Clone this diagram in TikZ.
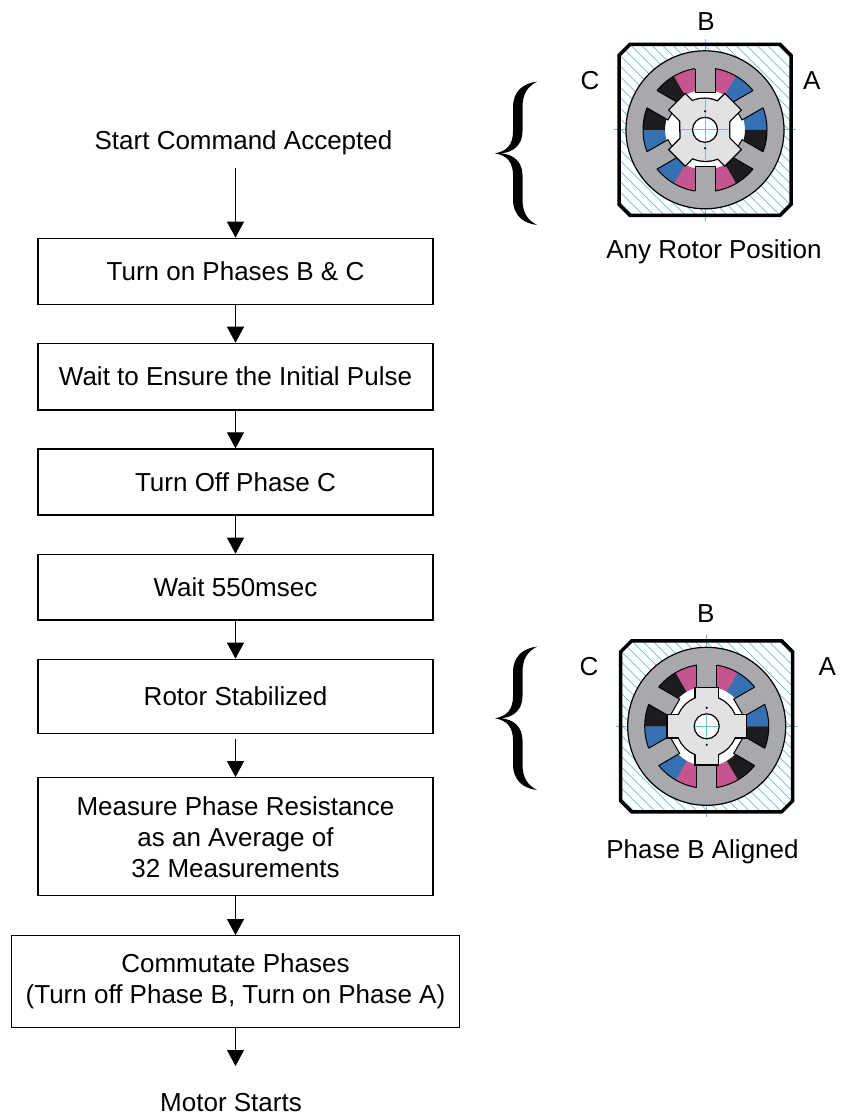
\documentclass[tikz,border=0pt]{standalone}
\usepackage{fontspec}
\setmainfont{Liberation Sans}
\usetikzlibrary{arrows.meta}
\definecolor{pinkw}{RGB}{198,84,142}
\definecolor{bluew}{RGB}{52,112,178}
\definecolor{blackw}{RGB}{28,28,30}
\definecolor{statorc}{RGB}{167,169,172}
\definecolor{rotorc}{RGB}{226,226,227}
\definecolor{hatchc}{RGB}{105,195,202}
\newcommand\octpath{(-75,85.5) -- (75,85.5) -- (86,74.5) -- (86,-74.5) -- (75,-85.5) -- (-75,-85.5) -- (-86,-74.5) -- (-86,74.5) -- cycle}
\newcommand\motorbase{%
  \begin{scope}
    \clip \octpath;
    \foreach \k in {-189,-178.5,...,189} \draw[hatchc, line width=0.7pt] (\k-95,95) -- (\k+95,-95);
  \end{scope}
  \draw[hatchc, line width=0.8pt] (0,91) -- (0,-91) (-91,0) -- (91,0);
  \draw[line width=3.5pt] \octpath;
  \filldraw[fill=statorc, draw=black, line width=1.2pt] (0,0) circle[radius=79pt];
  \fill[white] (0,0) circle[radius=40pt];
  \foreach \a/\cu/\cd in {0/bluew/blackw,60/pinkw/bluew,120/blackw/pinkw,180/bluew/blackw,240/pinkw/bluew,300/blackw/pinkw}{%
    \fill[\cu] (\a:40pt) -- (\a:62pt) arc[start angle=\a, end angle=\a+30, radius=62pt] -- ({\a+30}:40pt) arc[start angle=\a+30, end angle=\a, radius=40pt] -- cycle;
    \fill[\cd] ({\a-30}:40pt) -- ({\a-30}:62pt) arc[start angle=\a-30, end angle=\a, radius=62pt] -- (\a:40pt) arc[start angle=\a, end angle=\a-30, radius=40pt] -- cycle;
  }
  \draw[line width=1pt] (0,0) circle[radius=62pt];
  \foreach \t in {30,90,...,330}{%
    \begin{scope}[rotate=\t]
      \fill[statorc] (37,-10) rectangle (63.5,10);
      \draw[line width=1pt] (61.2,-10) -- (37,-10) -- (37,10) -- (61.2,10);
    \end{scope}
  }
}
\newcommand\centerhub{%
  \filldraw[fill=white, draw=black, line width=1.2pt] (0,0) circle[radius=12.5pt];
  \draw[hatchc, line width=0.8pt] (-12,0) -- (12,0) (0,-12) -- (0,12);
  \fill (0,18.5) circle[radius=1.2pt] (0,-18.5) circle[radius=1.2pt];
}
\newcommand\topbody{(24,-19.0) -- (24,19.0) arc[start angle=37.74, end angle=142.26, radius=31pt] -- (-24,-19.0) arc[start angle=217.74, end angle=322.26, radius=31pt] -- cycle}
\newcommand\bracefill{%
  \fill (42,71.7) .. controls (28,70) and (18,62) .. (18,46) -- (18,22) .. controls (18,9) and (12,2) .. (0,0)
     .. controls (12,-2) and (18,-9) .. (18,-22) -- (18,-46) .. controls (18,-62) and (28,-70) .. (42,-71.7)
     .. controls (33,-67) and (27.5,-60) .. (27.5,-46) -- (27.5,-22) .. controls (27.5,-9) and (19,-1) .. (6,0)
     .. controls (19,1) and (27.5,9) .. (27.5,22) -- (27.5,46) .. controls (27.5,60) and (33,67) .. (42,71.7) -- cycle;
}
\begin{document}
\begin{tikzpicture}[x=1pt,y=1pt,
  box/.style={draw, line width=1.3pt, minimum width=395pt, inner sep=0pt, align=center, font=\fontsize{26}{31}\selectfont},
  lab/.style={font=\fontsize{26}{31}\selectfont, anchor=base, inner sep=0pt},
  arr/.style={-{Triangle[length=16pt,width=17pt]}, line width=1pt}]
\useasboundingbox (0,0) rectangle (841,-1116);
\fill[white] (0,0) rectangle (841,-1116);

% flowchart
\node[lab] (start) at (243.5,-149.3) {Start Command Accepted};
\coordinate (sa) at (235.5,-168);
\node[box, minimum height=66pt] (b1) at (235.5,-271.3) {Turn on Phases B \& C};
\node[box, minimum height=66.7pt] (b2) at (235.5,-376.7) {Wait to Ensure the Initial Pulse};
\node[box, minimum height=66pt] (b3) at (235.5,-482) {Turn Off Phase C};
\node[box, minimum height=65.7pt] (b4) at (235.5,-587.2) {Wait 550msec};
\node[box, minimum height=74pt] (b5) at (235.5,-696.3) {Rotor Stabilized};
\node[box, minimum height=118pt] (b6) at (235.5,-836.7) {Measure Phase Resistance\\as an Average of\\32 Measurements};
\node[box, minimum width=447.6pt, minimum height=91.6pt] (b7) at (235.5,-981.5) {Commutate Phases\\(Turn off Phase B, Turn on Phase A)};
\coordinate (ea) at (235.5,-1066);
\node[lab] (ms) at (231,-1111) {Motor Starts};

\draw[arr] (sa) -- (b1);
\draw[arr] (b1) -- (b2);
\draw[arr] (b2) -- (b3);
\draw[arr] (b3) -- (b4);
\draw[arr] (b4) -- (b5);
\draw[arr, shorten <=4.7pt] (b5) -- (b6);
\draw[arr] (b6) -- (b7);
\draw[arr] (b7) -- (ea);

% top motor
\begin{scope}[shift={(705,-129.8)}]
  \motorbase
  \draw[line width=2.6pt] \topbody;
  \draw[line width=2.6pt, rotate=45] (-11,-39) rectangle (11,39);
  \draw[line width=2.6pt, rotate=-45] (-11,-39) rectangle (11,39);
  \fill[rotorc] \topbody;
  \fill[rotorc, rotate=45] (-11,-39) rectangle (11,39);
  \fill[rotorc, rotate=-45] (-11,-39) rectangle (11,39);
  \draw[hatchc, line width=0.8pt] (0,-30) -- (0,30) (-24,0) -- (24,0);
  \centerhub
\end{scope}
\node[lab] (tB) at (706,-31) {B};
\node[lab] (tC) at (590,-89.3) {C};
\node[lab] (tA) at (811.7,-89.3) {A};
\node[lab] (tcap) at (714,-258.3) {Any Rotor Position};
\begin{scope}[shift={(495,-153.3)}]
  \bracefill
\end{scope}

% bottom motor
\begin{scope}[shift={(706.7,-726.3)}]
  \motorbase
  \draw[line width=2.6pt] (0,0) circle[radius=30pt];
  \draw[line width=2.6pt] (-11,-38) rectangle (11,38);
  \draw[line width=2.6pt] (-39,-11) rectangle (39,11);
  \fill[rotorc] (0,0) circle[radius=30pt];
  \fill[rotorc] (-11,-38) rectangle (11,38);
  \fill[rotorc] (-39,-11) rectangle (39,11);
  \centerhub
\end{scope}
\node[lab] (bB) at (705.7,-622.3) {B};
\node[lab] (bC) at (589,-675) {C};
\node[lab] (bA) at (827.3,-675) {A};
\node[lab] (bcap) at (702.5,-858.3) {Phase B Aligned};
\begin{scope}[shift={(495,-718.3)}]
  \bracefill
\end{scope}
\end{tikzpicture}
\end{document}
